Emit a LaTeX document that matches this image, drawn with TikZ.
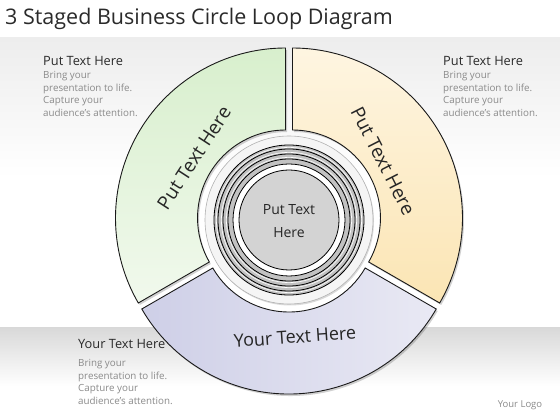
\documentclass[tikz,border=0pt]{standalone}
\usepackage{fontspec}
\setmainfont{Open Sans}
\usetikzlibrary{calc}
\definecolor{gtop}{HTML}{D8EFCD}
\definecolor{gbot}{HTML}{F1F9ED}
\definecolor{ytop}{HTML}{FEF5E1}
\definecolor{ybot}{HTML}{FBE5B4}
\definecolor{pleft}{HTML}{CECFE7}
\definecolor{pright}{HTML}{E9E9F4}
\definecolor{bgtop}{HTML}{EDEDED}
\definecolor{bandtop}{HTML}{D9D9D9}
\definecolor{bandgray}{HTML}{C2C2C2}
\definecolor{discgray}{HTML}{D3D3D3}
\definecolor{ringwhite}{HTML}{F5F5F5}
\definecolor{bodygray}{HTML}{8A8A8A}
\definecolor{headcol}{HTML}{2A2A2A}
\begin{document}
\begin{tikzpicture}[x=1pt,y=1pt,
  seg/.style={draw=black!90,line width=0.9pt,
    preaction={fill=black,opacity=0.18,transform canvas={xshift=1.5pt,yshift=-2pt}}},
  head/.style={anchor=base west,inner sep=0pt,text=headcol,font=\fontsize{12.8}{15}\selectfont},
  body/.style={anchor=north west,inner sep=0pt,align=left,text=bodygray,font=\fontsize{9.8}{12.8}\selectfont},
  seglabel/.style={inner sep=0pt,text=black!85,font=\fontsize{19}{22}\selectfont},
  ringline/.style={draw=black,line width=0.8pt},
  ringhl/.style={draw=white,line width=0.6pt}]
\useasboundingbox (0,0) rectangle (560,420);
\fill[white] (0,0) rectangle (560,420);
% background bands
\shade[top color=bgtop,bottom color=white] (0,242) rectangle (560,382);
\shade[top color=bandtop,bottom color=white] (0,34) rectangle (560,92);
% title
\node[anchor=west,inner sep=0pt,text=headcol,font=\fontsize{21.5}{25}\selectfont] (title) at (5,401) {3 Staged Business Circle Loop Diagram};
% segments
\begin{scope}[shift={(289,200)}]
  \begin{scope}[shift={(150:4)}]
    \draw[seg,top color=gtop,bottom color=gbot] (90:88) arc[start angle=90,end angle=210,radius=88pt] -- (210:170) arc[start angle=210,end angle=90,radius=170pt] -- cycle;
  \end{scope}
  \begin{scope}[shift={(30:4)}]
    \draw[seg,top color=ytop,bottom color=ybot] (90:88) arc[start angle=90,end angle=-30,radius=88pt] -- (-30:170) arc[start angle=-30,end angle=90,radius=170pt] -- cycle;
  \end{scope}
  \begin{scope}[shift={(270:4)}]
    \draw[seg,left color=pleft,right color=pright] (210:88) arc[start angle=210,end angle=330,radius=88pt] -- (330:170) arc[start angle=330,end angle=210,radius=170pt] -- cycle;
  \end{scope}
  % central rings
  \draw[fill=ringwhite,draw=black!30,line width=0.6pt,preaction={fill=black,opacity=0.15,transform canvas={xshift=1pt,yshift=-1.5pt}}] (0,0) circle[radius=84pt];
  \draw[fill=bandgray,ringline] (0,0) circle[radius=75pt];
  \draw[ringhl] (0,0) circle[radius=72.6pt];
  \draw[ringline] (0,0) circle[radius=71pt];
  \draw[ringhl] (0,0) circle[radius=67.6pt];
  \draw[ringline] (0,0) circle[radius=66pt];
  \draw[ringhl] (0,0) circle[radius=62.6pt];
  \draw[ringline] (0,0) circle[radius=61pt];
  \draw[fill=white,ringline] (0,0) circle[radius=56pt];
  \draw[fill=discgray,ringline] (0,0) circle[radius=50pt];
\end{scope}
% labels
\node[inner sep=0pt,align=center,text=black!85,font=\fontsize{14}{23}\selectfont] (center) at (289,199) {Put Text\\Here};
\node[seglabel,rotate=57] (glabel) at (194,262) {Put Text Here};
\node[seglabel,rotate=-63] (ylabel) at (383,259) {Put Text Here};
\node[seglabel,rotate=4,font=\fontsize{18}{22}\selectfont] (plabel) at (295,83) {Your Text Here};
% side text blocks
\node[head] (h1) at (43,354.5) {Put Text Here};
\node[body] (b1) at (43,349) {Bring your\\presentation to life.\\Capture your\\audience's attention.};
\node[head] (h2) at (443,354.5) {Put Text Here};
\node[body] (b2) at (443,349) {Bring your\\presentation to life.\\Capture your\\audience's attention.};
\node[head] (h3) at (78,71) {Your Text Here};
\node[body] (b3) at (78,61) {Bring your\\presentation to life.\\Capture your\\audience's attention.};
\node[inner sep=0pt,text=bodygray,font=\fontsize{9.5}{11}\selectfont] (logo) at (520,15) {Your Logo};
\end{tikzpicture}
\end{document}
